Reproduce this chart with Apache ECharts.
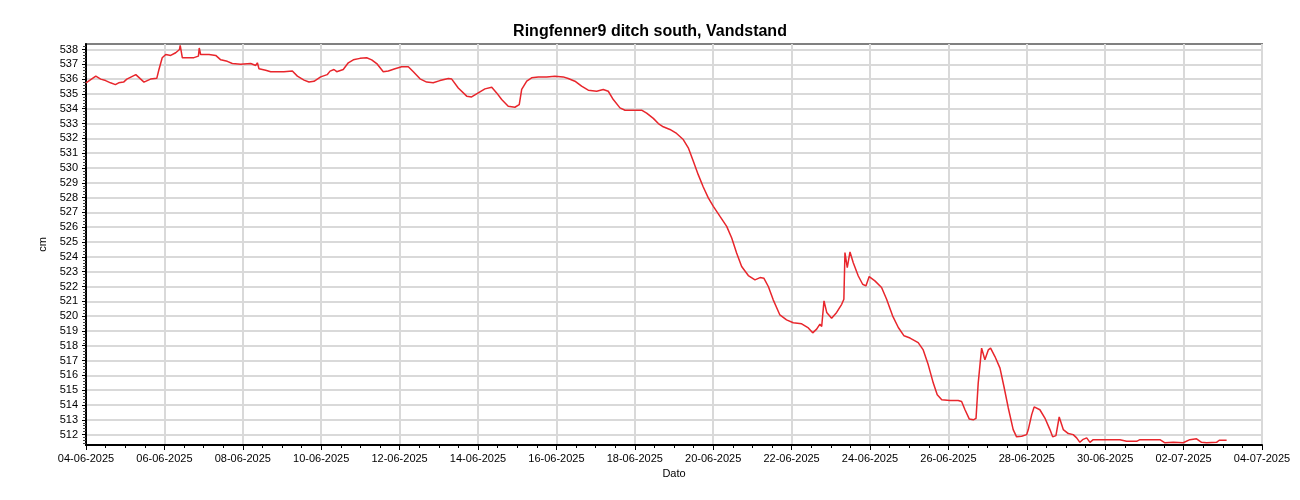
<!DOCTYPE html>
<html>
<head>
<meta charset="utf-8">
<script src="https://cdn.jsdelivr.net/npm/echarts@6/dist/echarts.min.js"></script>
<style>
html,body{margin:0;padding:0;background:#fff;}
#chart{width:1300px;height:500px;}
</style>
</head>
<body>
<div id="chart"></div>
<script>
const chartTitle = 'Ringfenner9 ditch south, Vandstand';
const xAxisName = 'Dato';
const yAxisName = 'cm';
const xTickLabels = ['04-06-2025','06-06-2025','08-06-2025','10-06-2025','12-06-2025','14-06-2025','16-06-2025','18-06-2025','20-06-2025','22-06-2025','24-06-2025','26-06-2025','28-06-2025','30-06-2025','02-07-2025','04-07-2025'];
const yTickLabels = [512,513,514,515,516,517,518,519,520,521,522,523,524,525,526,527,528,529,530,531,532,533,534,535,536,537,538];

const times = [
'2025-06-04 00:00','2025-06-04 06:00','2025-06-04 09:00','2025-06-04 12:00','2025-06-04 15:00','2025-06-04 18:00','2025-06-04 20:00','2025-06-04 23:00',
'2025-06-05 01:00','2025-06-05 06:30','2025-06-05 08:30','2025-06-05 11:30','2025-06-05 15:30','2025-06-05 19:20','2025-06-05 20:40','2025-06-05 22:40',
'2025-06-06 00:50','2025-06-06 03:50','2025-06-06 06:55','2025-06-06 09:15','2025-06-06 09:40','2025-06-06 11:00','2025-06-06 14:00','2025-06-06 18:05','2025-06-06 20:50','2025-06-06 21:20','2025-06-06 22:10',
'2025-06-07 03:20','2025-06-07 07:25','2025-06-07 10:30','2025-06-07 14:30','2025-06-07 17:35','2025-06-07 22:40',
'2025-06-08 04:50','2025-06-08 07:55','2025-06-08 08:55','2025-06-08 09:55','2025-06-08 14:00','2025-06-08 17:05','2025-06-08 21:05',
'2025-06-09 01:10','2025-06-09 06:20','2025-06-09 09:25','2025-06-09 13:30','2025-06-09 16:30','2025-06-09 19:35','2025-06-09 23:40',
'2025-06-10 03:40','2025-06-10 05:25','2025-06-10 07:50','2025-06-10 09:30','2025-06-10 13:30','2025-06-10 16:35','2025-06-10 19:40','2025-06-10 23:45',
'2025-06-11 03:50','2025-06-11 06:55','2025-06-11 10:00','2025-06-11 14:00','2025-06-11 17:05','2025-06-11 21:10',
'2025-06-12 01:15','2025-06-12 05:20','2025-06-12 08:25','2025-06-12 12:30','2025-06-12 16:35','2025-06-12 20:35',
'2025-06-13 00:40','2025-06-13 05:50','2025-06-13 07:55','2025-06-13 11:55','2025-06-13 17:05','2025-06-13 20:05',
'2025-06-14 00:10','2025-06-14 04:15','2025-06-14 08:25','2025-06-14 11:25','2025-06-14 14:30','2025-06-14 18:30','2025-06-14 22:35',
'2025-06-15 01:15','2025-06-15 02:45','2025-06-15 05:50','2025-06-15 08:50','2025-06-15 12:55','2025-06-15 18:00','2025-06-15 23:05',
'2025-06-16 04:10','2025-06-16 07:15','2025-06-16 11:20','2025-06-16 15:25','2025-06-16 19:30',
'2025-06-17 00:40','2025-06-17 04:40','2025-06-17 07:45','2025-06-17 10:50','2025-06-17 14:55','2025-06-17 18:00',
'2025-06-18 00:05','2025-06-18 04:10','2025-06-18 07:15','2025-06-18 11:20','2025-06-18 14:25','2025-06-18 17:25','2025-06-18 21:30',
'2025-06-19 01:35','2025-06-19 05:40','2025-06-19 08:45','2025-06-19 11:50','2025-06-19 14:50','2025-06-19 17:55','2025-06-19 21:00',
'2025-06-20 00:05','2025-06-20 04:10','2025-06-20 08:15','2025-06-20 11:20','2025-06-20 14:20','2025-06-20 17:25','2025-06-20 21:30',
'2025-06-21 01:35','2025-06-21 04:40','2025-06-21 07:05','2025-06-21 09:45','2025-06-21 12:45','2025-06-21 16:50','2025-06-21 20:55',
'2025-06-22 01:00','2025-06-22 06:10','2025-06-22 10:15','2025-06-22 12:55','2025-06-22 15:20','2025-06-22 17:20','2025-06-22 18:25','2025-06-22 19:50','2025-06-22 21:30',
'2025-06-23 00:30','2025-06-23 03:35','2025-06-23 06:40','2025-06-23 08:00','2025-06-23 08:40','2025-06-23 10:05','2025-06-23 11:45','2025-06-23 13:45','2025-06-23 16:50','2025-06-23 19:30','2025-06-23 21:30','2025-06-23 23:30',
'2025-06-24 03:00','2025-06-24 07:05','2025-06-24 10:10','2025-06-24 13:50','2025-06-24 17:20','2025-06-24 20:50',
'2025-06-25 00:30','2025-06-25 05:30','2025-06-25 08:35','2025-06-25 11:40','2025-06-25 14:45','2025-06-25 17:10','2025-06-25 19:55',
'2025-06-26 01:00','2025-06-26 06:00','2025-06-26 08:05','2025-06-26 10:10','2025-06-26 12:45','2025-06-26 15:15','2025-06-26 16:55','2025-06-26 18:15','2025-06-26 20:20','2025-06-26 22:20',
'2025-06-27 00:25','2025-06-27 01:50','2025-06-27 04:30','2025-06-27 07:35','2025-06-27 10:00','2025-06-27 12:40','2025-06-27 15:40','2025-06-27 17:45','2025-06-27 20:50','2025-06-27 23:55',
'2025-06-28 00:55','2025-06-28 03:00','2025-06-28 04:30','2025-06-28 08:00','2025-06-28 11:05','2025-06-28 14:10','2025-06-28 15:50','2025-06-28 17:50','2025-06-28 19:50','2025-06-28 22:20',
'2025-06-29 01:25','2025-06-29 04:25','2025-06-29 06:30','2025-06-29 08:30','2025-06-29 10:10','2025-06-29 12:40','2025-06-29 14:40','2025-06-29 16:40',
'2025-06-30 00:55','2025-06-30 09:00','2025-06-30 13:05','2025-06-30 19:15','2025-06-30 21:15',
'2025-07-01 09:30','2025-07-01 12:35','2025-07-01 17:40','2025-07-01 23:45',
'2025-07-02 03:50','2025-07-02 07:55','2025-07-02 11:00','2025-07-02 14:05','2025-07-02 20:10','2025-07-02 21:50',
'2025-07-03 02:20'
];

const levels = [
535.75,536.2,536.0,535.9,535.75,535.63,535.75,535.8,
536.0,536.3,536.1,535.8,536.0,536.05,536.65,537.44,
537.66,537.6,537.78,538.0,538.27,537.44,537.44,537.45,537.55,538.1,537.66,
537.66,537.6,537.3,537.2,537.05,537.0,
537.05,536.92,537.1,536.7,536.6,536.5,536.5,
536.5,536.55,536.2,535.93,535.8,535.85,536.15,
536.3,536.54,536.65,536.5,536.65,537.1,537.3,537.4,
537.44,537.3,537.05,536.5,536.55,536.7,
536.83,536.83,536.5,536.02,535.8,535.75,
535.9,536.04,536.0,535.4,534.85,534.8,
535.07,535.34,535.45,535.07,534.62,534.17,534.1,
534.28,535.3,535.86,536.09,536.15,536.15,536.2,
536.15,536.04,535.86,535.52,535.25,
535.18,535.3,535.18,534.62,534.06,533.9,
533.9,533.9,533.7,533.35,533.0,532.78,532.6,
532.33,531.92,531.36,530.45,529.55,528.72,527.98,
527.41,526.73,526.06,525.27,524.26,523.35,522.74,
522.45,522.6,522.55,522.0,521.1,520.08,519.75,
519.55,519.48,519.2,518.87,519.12,519.46,519.3,521.03,520.25,
519.86,520.25,520.8,521.14,524.29,523.27,524.33,523.6,522.71,522.15,522.04,522.67,
522.38,521.93,521.14,520.02,519.23,518.67,
518.52,518.21,517.72,516.71,515.48,514.69,514.36,
514.31,514.31,514.24,513.68,513.06,513.0,513.1,515.48,517.84,517.05,
517.72,517.84,517.27,516.49,515.25,513.8,512.34,511.85,511.89,512.0,
512.34,513.35,513.87,513.68,513.12,512.34,511.85,511.93,513.19,512.34,
512.07,512.0,511.78,511.48,511.66,511.78,511.48,511.66,
511.66,511.66,511.55,511.55,511.66,
511.66,511.45,511.48,511.45,
511.66,511.72,511.48,511.45,511.48,511.62,
511.62
];

const startMs = Date.UTC(2025, 5, 4);
const dayMs = 86400000;
function toDays(t) {
  const p = t.split(/[- :]/).map(Number);
  return (Date.UTC(p[0], p[1] - 1, p[2], p[3], p[4]) - startMs) / dayMs;
}
const seriesData = times.map((t, i) => [toDays(t), levels[i]]);

const yMin = 511.3, yMax = 538.37;
const yMinor = [];
for (let k = Math.ceil(yMin * 5); k <= Math.floor(yMax * 5); k++) {
  if (k % 5 !== 0) yMinor.push(k / 5);
}

const FONT = 'Liberation Sans, Arial, sans-serif';
const chart = echarts.init(document.getElementById('chart'), null, {renderer: 'canvas'});
chart.setOption({
  animation: false,
  backgroundColor: '#ffffff',
  title: {
    text: chartTitle,
    left: 'center',
    top: 19,
    textStyle: {fontFamily: FONT, fontSize: 16, fontWeight: 'bold', color: '#000'}
  },
  grid: {
    left: 86, right: 38, top: 44, bottom: 55,
    containLabel: false,
    outerBoundsMode: 'none',
    show: true,
    borderColor: '#808080',
    borderWidth: 2,
    backgroundColor: 'transparent'
  },
  xAxis: {
    type: 'value',
    min: 0,
    max: 30,
    interval: 2,
    name: xAxisName,
    nameLocation: 'middle',
    nameGap: 23,
    nameTextStyle: {fontFamily: FONT, fontSize: 11, color: '#000'},
    axisLine: {show: true, onZero: false, lineStyle: {color: '#000', width: 2}},
    axisTick: {show: true, length: 5, lineStyle: {color: '#000', width: 1}},
    minorTick: {show: true, splitNumber: 4, length: 3, lineStyle: {color: '#000', width: 1}},
    axisLabel: {
      fontFamily: FONT, fontSize: 11, color: '#000', margin: 8,
      showMinLabel: true, showMaxLabel: true, hideOverlap: false,
      formatter: v => xTickLabels[Math.round(v / 2)] || ''
    },
    splitLine: {show: true, lineStyle: {color: '#d9d9d9', width: 2}}
  },
  yAxis: [{
    type: 'value',
    min: yMin,
    max: yMax,
    name: yAxisName,
    nameLocation: 'middle',
    nameGap: 38,
    nameTextStyle: {fontFamily: FONT, fontSize: 11, color: '#000'},
    axisLine: {show: true, onZero: false, lineStyle: {color: '#000', width: 2}},
    axisTick: {show: true, length: 4, customValues: yTickLabels, lineStyle: {color: '#000', width: 1}},
    axisLabel: {fontFamily: FONT, fontSize: 11, color: '#000', margin: 8, customValues: yTickLabels, hideOverlap: false},
    splitLine: {show: true, lineStyle: {color: '#d9d9d9', width: 2}}
  }, {
    type: 'value',
    min: yMin,
    max: yMax,
    position: 'left',
    offset: 0,
    axisLine: {show: false},
    axisTick: {show: true, length: 3, customValues: yMinor, lineStyle: {color: '#444', width: 1}},
    axisLabel: {show: false},
    splitLine: {show: false}
  }],
  series: [{
    type: 'line',
    data: seriesData,
    showSymbol: false,
    symbol: 'none',
    yAxisIndex: 0,
    lineStyle: {color: '#e8262c', width: 1.5},
    itemStyle: {color: '#e8262c'}
  }]
});
</script>
</body>
</html>
